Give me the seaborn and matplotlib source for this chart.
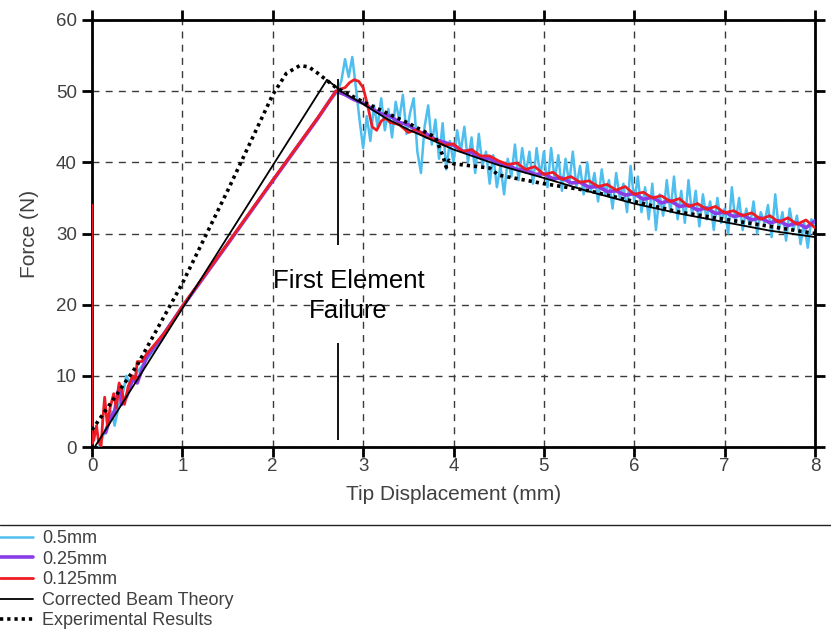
import matplotlib
matplotlib.use("Agg")
import matplotlib.pyplot as plt
from matplotlib.lines import Line2D
import seaborn as sns
import pandas as pd

# ---------------- data ----------------
# 0.5 mm mesh (light blue, noisy): rising part and post-failure part
blue_x_rise = [0.08, 0.12, 0.18, 0.22, 0.25, 0.30, 0.35, 0.38, 0.42, 0.50, 0.60, 0.70, 0.80, 0.90,
               1.00, 1.20, 1.40, 1.60, 1.80, 2.00, 2.20, 2.40, 2.60]
blue_y_rise = [0.0, 1.5, 3.5, 5.0, 3.0, 6.0, 8.0, 10.0, 9.0, 10.5, 12.2, 13.9, 15.8, 17.7,
               19.6, 23.2, 26.8, 30.4, 33.9, 37.5, 41.0, 44.5, 48.1]
blue_x_post = [2.72, 2.76, 2.80, 2.84, 2.88, 2.92, 2.96, 3.00, 3.04, 3.08,
               3.12, 3.16, 3.20, 3.24, 3.28, 3.32, 3.36, 3.40, 3.44, 3.48,
               3.52, 3.56, 3.60, 3.64, 3.68, 3.72, 3.76, 3.80, 3.84, 3.88,
               3.92, 3.96, 4.00, 4.04, 4.08, 4.12, 4.16, 4.20, 4.24, 4.28,
               4.32, 4.36, 4.40, 4.44, 4.48, 4.52, 4.56, 4.60, 4.64, 4.68,
               4.72, 4.76, 4.80, 4.84, 4.88, 4.92, 4.96, 5.00, 5.04, 5.08,
               5.12, 5.16, 5.20, 5.24, 5.28, 5.32, 5.36, 5.40, 5.44, 5.48,
               5.52, 5.56, 5.60, 5.64, 5.68, 5.72, 5.76, 5.80, 5.84, 5.88,
               5.92, 5.96, 6.00, 6.04, 6.08, 6.12, 6.16, 6.20, 6.24, 6.28,
               6.32, 6.36, 6.40, 6.44, 6.48, 6.52, 6.56, 6.60, 6.64, 6.68,
               6.72, 6.76, 6.80, 6.84, 6.88, 6.92, 6.96, 7.00, 7.04, 7.08,
               7.12, 7.16, 7.20, 7.24, 7.28, 7.32, 7.36, 7.40, 7.44, 7.48,
               7.52, 7.56, 7.60, 7.64, 7.68, 7.72, 7.76, 7.80, 7.84, 7.88,
               7.92, 7.96, 8.00]
blue_y_post = [50.0, 51.5, 54.5, 52.0, 54.8, 50.5, 46.0, 42.0, 46.5, 43.0,
               48.0, 45.0, 49.0, 44.5, 47.5, 43.5, 48.5, 46.0, 49.5, 44.0,
               47.0, 49.0, 41.5, 38.5, 45.0, 48.0, 42.5, 46.0, 40.5, 45.5,
               39.0, 43.0, 40.0, 44.5, 41.5, 45.0, 40.0, 43.5, 38.5, 44.0,
               39.5, 41.5, 37.0, 41.0, 36.5, 39.5, 35.5, 40.5, 38.0, 42.5,
               37.5, 42.0, 38.5, 41.5, 37.0, 42.0, 38.0, 41.5, 36.5, 42.0,
               37.5, 41.0, 36.0, 40.5, 37.0, 41.5, 36.5, 39.5, 35.5, 40.0,
               36.0, 38.5, 34.5, 39.0, 35.5, 37.5, 33.5, 38.5, 35.0, 37.0,
               33.0, 39.5, 34.5, 38.0, 33.0, 36.5, 32.0, 37.0, 30.5, 35.5,
               32.5, 37.5, 33.0, 38.0, 32.0, 36.0, 31.5, 37.5, 32.5, 36.0,
               31.0, 35.5, 32.0, 34.5, 30.5, 35.0, 31.5, 33.5, 30.0, 36.5,
               31.5, 35.0, 30.5, 33.5, 31.0, 34.5, 30.0, 33.0, 31.5, 34.0,
               29.5, 35.5, 30.5, 33.0, 29.0, 33.5, 30.5, 32.5, 28.5, 31.5,
               28.0, 32.0, 31.0]
blue_x = blue_x_rise + blue_x_post
blue_y = blue_y_rise + blue_y_post

# 0.25 mm mesh (purple)
purple_x = [0.15, 0.20, 0.25, 0.30, 0.33, 0.38, 0.45, 0.50, 0.60, 0.80, 1.00, 1.50, 2.00, 2.50,
            2.70, 2.80, 2.90, 3.00, 3.10, 3.20, 3.30, 3.40, 3.50, 3.60, 3.70, 3.80, 3.90, 4.00,
            4.10, 4.20, 4.30, 4.40, 4.50, 4.60, 4.70, 4.80, 4.90, 5.00, 5.10, 5.20, 5.30, 5.40,
            5.50, 5.60, 5.70, 5.80, 5.90, 6.00, 6.10, 6.20, 6.30, 6.40, 6.50, 6.60, 6.70, 6.80,
            6.90, 7.00, 7.10, 7.20, 7.30, 7.40, 7.50, 7.60, 7.70, 7.80, 7.90, 8.00]
purple_y = [2.0, 4.0, 5.0, 8.5, 6.0, 7.0, 9.5, 9.0, 12.5, 16.0, 19.7, 28.5, 37.4, 46.2,
            50.0, 49.5, 48.8, 48.3, 47.5, 46.8, 46.5, 45.6, 45.3, 44.3, 44.0, 43.2, 42.8, 42.4,
            41.6, 41.4, 40.6, 40.5, 39.8, 39.6, 39.0, 38.9, 38.3, 38.4, 37.7, 37.8, 37.1, 37.2,
            36.5, 36.6, 35.9, 36.0, 35.4, 35.6, 34.8, 35.1, 34.3, 34.6, 33.8, 34.0, 33.3, 33.6,
            32.8, 33.0, 32.4, 32.6, 31.9, 32.2, 31.5, 31.8, 31.1, 31.5, 30.8, 31.8]

# 0.125 mm mesh (red)
red_x = [0.00, 0.00, 0.02, 0.05, 0.07, 0.10, 0.12, 0.14, 0.17, 0.20, 0.24, 0.27, 0.30, 0.33,
         0.36, 0.40, 0.45, 0.48, 0.50, 0.55, 0.60, 0.70, 0.80, 0.90, 1.00, 1.50, 2.00, 2.50,
         2.70, 2.75, 2.80, 2.85, 2.90, 2.95, 3.00, 3.05, 3.10, 3.15, 3.20, 3.25, 3.30, 3.40,
         3.50, 3.60, 3.70, 3.80, 3.90, 4.00, 4.10, 4.20, 4.30, 4.40, 4.50, 4.60, 4.70, 4.80,
         4.90, 5.00, 5.10, 5.20, 5.30, 5.40, 5.50, 5.60, 5.70, 5.80, 5.90, 6.00, 6.10, 6.20,
         6.30, 6.40, 6.50, 6.60, 6.70, 6.80, 6.90, 7.00, 7.10, 7.20, 7.30, 7.40, 7.50, 7.60,
         7.70, 7.80, 7.90, 8.00]
red_y = [34.0, 0.5, 1.0, 3.0, 1.0, 0.0, 4.0, 7.0, 3.0, 5.5, 7.5, 5.5, 9.0, 8.0,
         6.0, 8.5, 10.0, 9.5, 12.0, 12.0, 13.0, 14.5, 16.0, 17.8, 19.8, 28.6, 37.5, 46.3,
         50.0, 50.3, 50.5, 51.2, 51.6, 51.4, 50.5, 48.0, 45.0, 44.5, 45.8, 46.2, 45.6, 45.3,
         44.2, 44.6, 43.5, 43.2, 42.4, 42.6, 41.5, 41.8, 40.9, 40.9, 40.2, 39.7, 39.9, 39.0,
         39.4, 38.3, 38.6, 37.6, 38.0, 37.2, 37.4, 36.6, 36.9, 36.1, 36.6, 35.5, 35.8, 35.0,
         35.3, 34.5, 34.9, 33.8, 34.2, 33.4, 33.8, 32.9, 33.2, 32.5, 32.9, 32.0, 32.5, 31.6,
         32.2, 31.3, 31.9, 30.8]

# Corrected beam theory (black solid)
cbt_x = [0.03, 2.60, 2.70, 2.75, 3.00, 3.25, 3.50, 4.00, 4.50, 5.00, 5.50, 6.00, 6.50, 7.00, 7.50, 8.00]
cbt_y = [0.0, 51.6, 50.6, 50.0, 48.2, 46.2, 44.6, 41.8, 39.6, 37.8, 35.9, 34.2, 32.8, 31.6, 30.4, 29.5]

# Experimental results (black dotted)
exp_x = [0.00, 0.50, 1.00, 1.50, 2.00, 2.15, 2.30, 2.40, 2.50, 2.60, 2.70, 3.00, 3.50, 3.80,
         3.88, 3.92, 3.95, 4.00, 4.40, 4.50, 5.00, 5.50, 6.00, 6.50, 7.00, 7.50, 8.00]
exp_y = [2.4, 11.5, 23.0, 36.0, 49.5, 52.5, 53.6, 53.4, 52.5, 51.5, 50.5, 48.5, 45.5, 43.5,
         41.0, 39.3, 40.3, 39.8, 39.2, 38.2, 37.0, 36.0, 34.5, 33.0, 32.0, 31.0, 30.0]

series_labels = ["0.5mm", "0.25mm", "0.125mm", "Corrected Beam Theory", "Experimental Results"]

# First element failure marker
fail_x = 2.72
fail_upper = [28.4, 51.7]
fail_lower = [1.0, 14.6]
fail_text = "First Element\nFailure"

x_ticks = [0, 1, 2, 3, 4, 5, 6, 7, 8]
y_ticks = [0, 10, 20, 30, 40, 50, 60]

# ---------------- style ----------------
sns.set_style("white")
plt.rcParams["font.family"] = ["Liberation Sans", "DejaVu Sans"]

fig = plt.figure(figsize=(8.31, 6.30), dpi=100)
ax = fig.add_axes([92 / 831, 1 - 447 / 630, (815 - 92) / 831, (447 - 20) / 630])

tick_col = "#404040"

sns.lineplot(data=pd.DataFrame({"x": blue_x, "y": blue_y}), x="x", y="y", sort=False,
             estimator=None, color="#4DBEEE", lw=1.8, ax=ax, label=series_labels[0], zorder=3)
sns.lineplot(data=pd.DataFrame({"x": purple_x, "y": purple_y}), x="x", y="y", sort=False,
             estimator=None, color="#8A3DE6", lw=2.6, ax=ax, label=series_labels[1], zorder=3.1)
sns.lineplot(data=pd.DataFrame({"x": red_x, "y": red_y}), x="x", y="y", sort=False,
             estimator=None, color="#EE1C25", lw=2.0, ax=ax, label=series_labels[2], zorder=3.2)
sns.lineplot(data=pd.DataFrame({"x": cbt_x, "y": cbt_y}), x="x", y="y", sort=False,
             estimator=None, color="black", lw=1.3, ax=ax, label=series_labels[3], zorder=3.3)
sns.lineplot(data=pd.DataFrame({"x": exp_x, "y": exp_y}), x="x", y="y", sort=False,
             estimator=None, color="black", lw=2.6, ax=ax, label=series_labels[4],
             linestyle=(0, (0.9, 1.1)), zorder=3.4)

ax.vlines(fail_x, fail_upper[0], fail_upper[1], color="black", lw=1.3, zorder=3.5)
ax.vlines(fail_x, fail_lower[0], fail_lower[1], color="black", lw=1.3, zorder=3.5)
ax.text(2.84, 21.2, fail_text, ha="center", va="center", fontsize=18.5,
        color="black", linespacing=1.3)

ax.set_xlim(0, 8)
ax.set_ylim(0, 60)
ax.set_xticks(x_ticks)
ax.set_yticks(y_ticks)
ax.set_xlabel("Tip Displacement (mm)", fontsize=15, color=tick_col, labelpad=7)
ax.set_ylabel("Force (N)", fontsize=15, color=tick_col, labelpad=12)

ax.grid(True, linestyle=(0, (5, 4.5)), linewidth=1.0, color="#3a3a3a")
ax.set_axisbelow(True)

for s in ax.spines.values():
    s.set_visible(True)
    s.set_linewidth(2.0)
    s.set_color("black")
    s.set_zorder(2.5)

ax.tick_params(axis="both", which="major", direction="out", length=7, width=2,
               color="black", labelsize=13.5, labelcolor=tick_col,
               top=True, right=True, bottom=True, left=True,
               labeltop=False, labelright=False)
ax.tick_params(axis="x", pad=1)
ax.tick_params(axis="y", pad=4)

handles, labels = ax.get_legend_handles_labels()
ax.get_legend().remove()

fig.add_artist(Line2D([0, 1], [1 - 525 / 630, 1 - 525 / 630], transform=fig.transFigure,
                      color="#222222", lw=1.0))

leg = fig.legend(handles, labels, loc="upper left", bbox_to_anchor=(0.0, 1 - 530 / 630),
                 bbox_transform=fig.transFigure, frameon=False, fontsize=13,
                 handlelength=1.8, handletextpad=0.55, labelspacing=0.2,
                 borderpad=0.0, borderaxespad=0.0)
for t in leg.get_texts():
    t.set_color(tick_col)

fig.savefig("out.png", dpi=100)
